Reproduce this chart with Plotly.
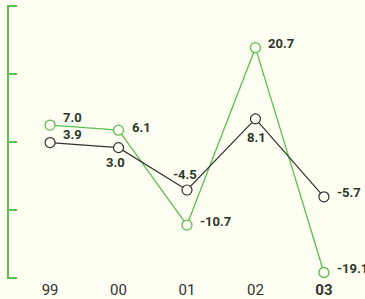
import plotly.graph_objects as go

years = ["99", "00", "01", "02", "03"]
year_labels = ["99", "00", "01", "02", "<b>03</b>"]
green_values = [7.0, 6.1, -10.7, 20.7, -19.1]
black_values = [3.9, 3.0, -4.5, 8.1, -5.7]
y_ticks = [-20, -8, 4, 16, 28]

BG = "#fefef2"
GREEN = "#5cbf52"
BLACK = "#333333"
LABEL = "#2a382a"

# label placement (xanchor, xshift, yshift) per point
green_pos = [("left", 11, 8), ("left", 11, 3), ("left", 11, 4), ("left", 11, 4), ("left", 11, 4)]
black_pos = [("left", 11, 8), ("center", -3, -15), ("center", -2, 16), ("center", 1, -19), ("left", 11, 4)]

fig = go.Figure()
fig.add_trace(go.Scatter(
    x=list(range(len(years))), y=green_values, mode="lines+markers",
    line=dict(color=GREEN, width=1.3),
    marker=dict(size=10, color=BG, line=dict(color=GREEN, width=1.3)),
    hoverinfo="skip", cliponaxis=False))
fig.add_trace(go.Scatter(
    x=list(range(len(years))), y=black_values, mode="lines+markers",
    line=dict(color=BLACK, width=1.2),
    marker=dict(size=10, color=BG, line=dict(color=BLACK, width=1.2)),
    hoverinfo="skip", cliponaxis=False))

for vals, pos in ((green_values, green_pos), (black_values, black_pos)):
    for i, v in enumerate(vals):
        xa, xs, ys = pos[i]
        fig.add_annotation(x=i, y=v, text=f"<b>{v:.1f}</b>", showarrow=False,
                           xanchor=xa, yanchor="middle", xshift=xs, yshift=ys,
                           font=dict(family="Roboto", size=13, color=LABEL))

fig.update_layout(
    width=365, height=299, margin=dict(l=9, r=0, t=5, b=20),
    paper_bgcolor=BG, plot_bgcolor=BG, showlegend=False,
    xaxis=dict(range=[-0.6, 4.6], tickmode="array", tickvals=list(range(len(years))),
               ticktext=year_labels, showgrid=False, zeroline=False, showline=False,
               ticks="", tickfont=dict(family="Roboto", size=15, color=BLACK)),
    yaxis=dict(range=[-20.25, 28.25], tickmode="array", tickvals=y_ticks,
               showgrid=False, zeroline=False, showline=True, linecolor=GREEN, linewidth=1.5,
               ticks="inside", ticklen=8, tickcolor=GREEN, tickwidth=1.5,
               showticklabels=False),
)
fig.write_html("out.html", config={"displayModeBar": False},
               post_script="document.body.style.margin='0';document.body.style.background='%s';" % BG)
